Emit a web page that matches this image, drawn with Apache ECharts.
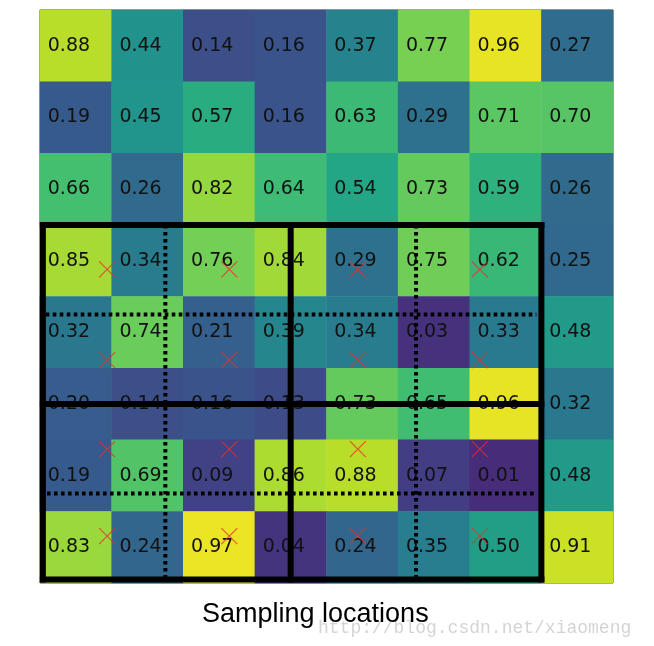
<!DOCTYPE html>
<html>
<head>
<meta charset="utf-8">
<script src="https://cdn.jsdelivr.net/npm/echarts@6/dist/echarts.min.js"></script>
<style>html,body{margin:0;padding:0;background:#fff;}#c{width:654px;height:646px;}</style>
</head>
<body>
<div id="c"></div>
<script>
// ---- data ----
const colCats = ['0','1','2','3','4','5','6','7'];
const rowCats = ['0','1','2','3','4','5','6','7'];
const values = [
  [0.88,0.44,0.14,0.16,0.37,0.77,0.96,0.27],
  [0.19,0.45,0.57,0.16,0.63,0.29,0.71,0.70],
  [0.66,0.26,0.82,0.64,0.54,0.73,0.59,0.26],
  [0.85,0.34,0.76,0.84,0.29,0.75,0.62,0.25],
  [0.32,0.74,0.21,0.39,0.34,0.03,0.33,0.48],
  [0.20,0.14,0.16,0.13,0.73,0.65,0.96,0.32],
  [0.19,0.69,0.09,0.86,0.88,0.07,0.01,0.48],
  [0.83,0.24,0.97,0.04,0.24,0.35,0.50,0.91]
];
// pooling bin boundaries (cell-edge coordinates, y downward)
const solidSegments = [
  [[0.04,3],[7,3]],
  [[7,3],[7,7.95]],
  [[7,7.95],[0.04,7.95]],
  [[0.04,7.95],[0.04,3]],
  [[3.5,3],[3.5,7.95]],
  [[0.04,5.5],[7,5.5]]
];
const dottedSegments = [
  [[1.75,3],[1.75,7.95]],
  [[5.25,3],[5.25,7.95]],
  [[0.08,4.25],[6.93,4.25]],
  [[0.0,6.75],[6.93,6.75]]
];
const sampleXs = [0.937,2.643,4.438,6.14];
const sampleYs = [3.62,4.888,6.13,7.346];
const titleText = 'Sampling locations';
const watermark = 'http://blog.csdn.net/xiaomeng';

// ---- build ----
const viridis = ['#440154','#482475','#414487','#355f8d','#2a788e','#21918c','#22a884','#44bf70','#7ad151','#bddf26','#fde725'];
const heatData = [];
values.forEach((row,r)=>row.forEach((v,c)=>heatData.push([c,r,v])));
const samplePts = [];
sampleYs.forEach(y=>sampleXs.forEach(x=>samplePts.push([x,y])));

const series = [{
  type:'heatmap', xAxisIndex:0, yAxisIndex:0, data:heatData, z:1,
  itemStyle:{borderWidth:0},
  emphasis:{disabled:true},
  label:{show:true, formatter:p=>p.value[2].toFixed(2), position:[8,'50%'], align:'left', verticalAlign:'middle',
         fontFamily:'DejaVu Sans', fontSize:19, color:'#111'}
}];
dottedSegments.forEach(seg=>series.push({
  type:'line', xAxisIndex:1, yAxisIndex:1, data:seg, symbol:'none', silent:true, z:4,
  lineStyle:{color:'#000', width:4, type:[3.6,3.4], cap:'butt'}
}));
solidSegments.forEach(seg=>series.push({
  type:'line', xAxisIndex:1, yAxisIndex:1, data:seg, symbol:'none', silent:true, z:5,
  lineStyle:{color:'#000', width:6, cap:'square'}
}));
series.push({
  type:'scatter', xAxisIndex:1, yAxisIndex:1, data:samplePts, z:6, silent:true,
  symbol:'path://M0,0L10,10M10,0L0,10', symbolSize:16,
  itemStyle:{color:'none', borderColor:'#e8302a', borderWidth:1.1}
});

const chart = echarts.init(document.getElementById('c'));
chart.setOption({
  animation:false,
  backgroundColor:'#fff',
  grid:{left:40, top:10, width:573, height:573, show:true, borderColor:'#444', borderWidth:1, backgroundColor:'transparent'},
  xAxis:[
    {type:'category', data:colCats, show:false, gridIndex:0},
    {type:'value', min:0, max:8, show:false, gridIndex:0}
  ],
  yAxis:[
    {type:'category', data:rowCats, inverse:true, show:false, gridIndex:0},
    {type:'value', min:0, max:8, inverse:true, show:false, gridIndex:0}
  ],
  visualMap:{show:false, type:'continuous', min:-0.13, max:1, dimension:2, seriesIndex:0, inRange:{color:viridis}},
  title:{text:titleText, left:197, top:596, textStyle:{fontFamily:'Liberation Sans', fontSize:27, fontWeight:'normal', color:'#000'}},
  graphic:[{type:'text', left:318, top:619, silent:true,
    style:{text:watermark, fontFamily:'Liberation Mono', fontSize:18, fill:'rgba(170,170,170,0.5)'}}],
  series:series
});
</script>
</body>
</html>
